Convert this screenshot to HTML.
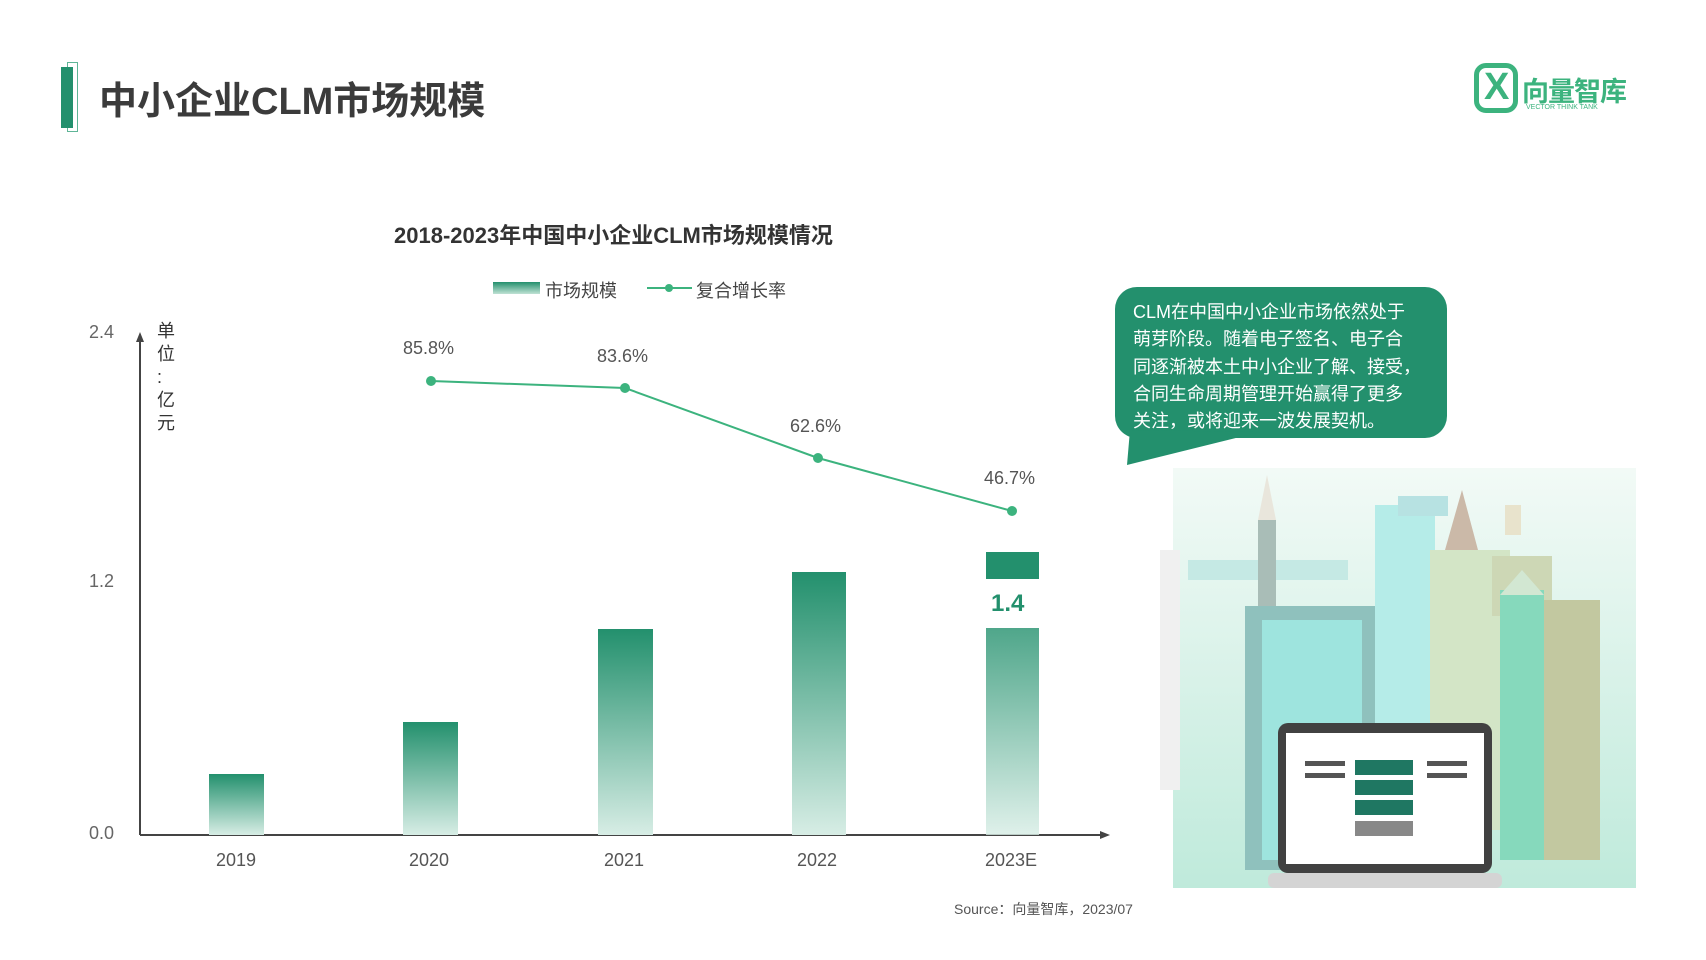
<!DOCTYPE html>
<html><head><meta charset="utf-8"><style>
html,body{margin:0;padding:0;background:#fff;}
body{width:1706px;height:960px;position:relative;overflow:hidden;font-family:"Liberation Sans","Noto Sans CJK SC",sans-serif;}
.t{position:absolute;white-space:nowrap;}
</style></head><body>
<div style="position:absolute;left:67px;top:62px;width:9px;height:68px;border:1.5px solid #5fb597;"></div>
<div style="position:absolute;left:61px;top:67px;width:12px;height:61px;background:#23906d;"></div>
<div class="t" style="left:99px;top:70px;font-size:38px;font-weight:bold;color:#3b3b3b;">中小企业CLM市场规模</div>
<!-- logo -->
<div style="position:absolute;left:1474px;top:63px;width:44px;height:50px;border:5px solid #3cb37e;border-radius:12px;box-sizing:border-box;"></div>
<div class="t" style="left:1484px;top:66px;font-size:38px;font-weight:bold;color:#3cb37e;">X</div>
<div class="t" style="left:1522px;top:70px;font-size:27px;font-weight:bold;color:#3cb37e;letter-spacing:-1px;">向量智库</div>
<div class="t" style="left:1526px;top:104px;font-size:7px;color:#3cb37e;">VECTOR THINK TANK</div>

<div class="t" style="left:394px;top:218px;font-size:22px;font-weight:bold;color:#333;">2018-2023年中国中小企业CLM市场规模情况</div>
<svg width="1706" height="960" style="position:absolute;left:0;top:0">
<defs><linearGradient id="g" x1="0" y1="0" x2="0" y2="1"><stop offset="0" stop-color="#23906d"/><stop offset="1" stop-color="#d7ede5"/></linearGradient>
<linearGradient id="lg" x1="0" y1="0" x2="0" y2="1"><stop offset="0" stop-color="#23906d"/><stop offset="1" stop-color="#bfe2d4"/></linearGradient>
<linearGradient id="bg" x1="0" y1="0" x2="0" y2="1"><stop offset="0" stop-color="#f2faf6"/><stop offset="1" stop-color="#bfeadb"/></linearGradient></defs>
<rect x="493" y="282" width="47" height="12" fill="url(#lg)"/>
<line x1="647" y1="288" x2="692" y2="288" stroke="#3cb37e" stroke-width="2"/><circle cx="669" cy="288" r="4" fill="#3cb37e"/>
<line x1="140" y1="835" x2="140" y2="338" stroke="#444" stroke-width="2"/>
<path d="M136 342 L140 332 L144 342" fill="#444"/>
<line x1="140" y1="835" x2="1104" y2="835" stroke="#444" stroke-width="2"/>
<path d="M1100 831 L1110 835 L1100 839" fill="#444"/>
<rect x="209" y="774" width="55" height="61" fill="url(#g)"/>
<rect x="403" y="722" width="55" height="113" fill="url(#g)"/>
<rect x="598" y="629" width="55" height="206" fill="url(#g)"/>
<rect x="792" y="572" width="54" height="263" fill="url(#g)"/>
<rect x="986" y="628" width="53" height="207" fill="url(#g)" opacity="0.8"/>
<rect x="986" y="552" width="53" height="27" fill="#23906d"/>
<polyline points="431,381 625,388 818,458 1012,511" fill="none" stroke="#3cb37e" stroke-width="2"/>
<g fill="#3cb37e"><circle cx="431" cy="381" r="5"/><circle cx="625" cy="388" r="5"/><circle cx="818" cy="458" r="5"/><circle cx="1012" cy="511" r="5"/></g>
<!-- bubble -->
<rect x="1115" y="287" width="332" height="151" rx="22" fill="#23906d"/>
<path d="M1130 430 L1127 465 L1260 432 Z" fill="#23906d"/>
<!-- illustration -->
<rect x="1173" y="468" width="463" height="420" fill="url(#bg)"/>
<rect x="1160" y="550" width="20" height="240" fill="#f0f0f0"/>
<rect x="1188" y="560" width="160" height="20" fill="#c5e9e4"/>
<rect x="1258" y="520" width="18" height="150" fill="#a9bdb7"/>
<path d="M1258 520 L1267 475 L1276 520Z" fill="#e9e6dc"/>
<rect x="1245" y="606" width="135" height="264" fill="#8fc1bd"/>
<rect x="1262" y="620" width="100" height="240" fill="#9ee4de"/>
<rect x="1375" y="505" width="60" height="250" fill="#b5ece8"/>
<rect x="1398" y="496" width="50" height="20" fill="#b7e2e2"/>
<rect x="1430" y="550" width="80" height="280" fill="#d3e5c6"/>
<path d="M1445 550 L1462 490 L1478 550Z" fill="#cbb9a8"/>
<rect x="1505" y="505" width="16" height="30" fill="#e8e3cc"/>
<rect x="1492" y="556" width="60" height="60" fill="#cdd7b5"/>
<rect x="1540" y="600" width="60" height="260" fill="#c2c8a0"/>
<rect x="1500" y="590" width="44" height="270" fill="#86d9bc"/>
<path d="M1500 595 L1522 570 L1544 595Z" fill="#d2e7d2"/>
<rect x="1278" y="723" width="214" height="150" rx="10" fill="#414141"/>
<rect x="1286" y="733" width="198" height="131" fill="#fff"/>
<rect x="1268" y="873" width="234" height="15" rx="6" fill="#d4d4d4"/>
<rect x="1355" y="760" width="58" height="15" fill="#1f7762"/>
<rect x="1355" y="780" width="58" height="15" fill="#1f7762"/>
<rect x="1355" y="800" width="58" height="15" fill="#1f7762"/>
<rect x="1355" y="821" width="58" height="15" fill="#888"/>
<rect x="1305" y="761" width="40" height="5" fill="#555"/><rect x="1305" y="773" width="40" height="5" fill="#555"/>
<rect x="1427" y="761" width="40" height="5" fill="#555"/><rect x="1427" y="773" width="40" height="5" fill="#555"/>
</svg>
<div class="t" style="left:1133px;top:299px;font-size:18px;line-height:27.3px;color:#fff;">CLM在中国中小企业市场依然处于<br>萌芽阶段。随着电子签名、电子合<br>同逐渐被本土中小企业了解、接受，<br>合同生命周期管理开始赢得了更多<br>关注，或将迎来一波发展契机。</div>
<div class="t" style="left:545px;top:277px;font-size:18px;color:#444;">市场规模</div>
<div class="t" style="left:696px;top:277px;font-size:18px;color:#444;">复合增长率</div>
<div class="t" style="left:89px;top:322px;font-size:18px;color:#666;">2.4</div>
<div class="t" style="left:89px;top:571px;font-size:18px;color:#666;">1.2</div>
<div class="t" style="left:89px;top:823px;font-size:18px;color:#666;">0.0</div>
<div class="t" style="left:157px;top:320px;font-size:18px;line-height:23px;color:#333;">单<br>位<br>:<br>亿<br>元</div>
<div class="t" style="left:403px;top:338px;font-size:18px;color:#555;">85.8%</div>
<div class="t" style="left:597px;top:346px;font-size:18px;color:#555;">83.6%</div>
<div class="t" style="left:790px;top:416px;font-size:18px;color:#555;">62.6%</div>
<div class="t" style="left:984px;top:468px;font-size:18px;color:#555;">46.7%</div>
<div class="t" style="left:991px;top:590px;font-size:24px;font-weight:bold;color:#23906d;">1.4</div>
<div class="t" style="left:216px;top:850px;font-size:18px;color:#555;">2019</div>
<div class="t" style="left:409px;top:850px;font-size:18px;color:#555;">2020</div>
<div class="t" style="left:604px;top:850px;font-size:18px;color:#555;">2021</div>
<div class="t" style="left:797px;top:850px;font-size:18px;color:#555;">2022</div>
<div class="t" style="left:985px;top:850px;font-size:18px;color:#555;">2023E</div>
<div class="t" style="left:954px;top:899px;font-size:14px;color:#555;">Source：向量智库，2023/07</div>
</body></html>
